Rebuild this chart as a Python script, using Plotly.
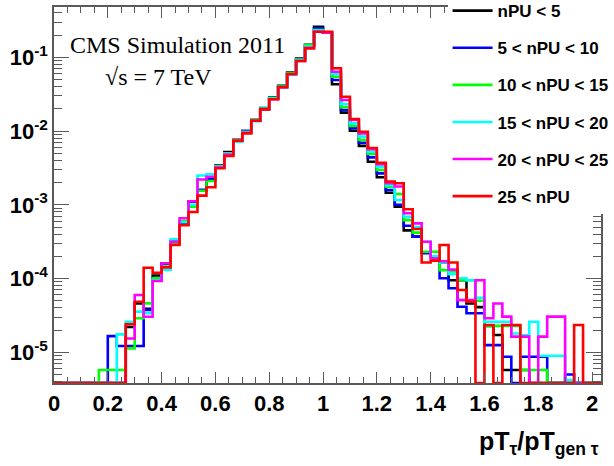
import plotly.graph_objects as go

# ---------------- data (61 bins of width 1/30 from 0 to 61/30) ----------------
BIN_WIDTH = 1.0 / 30.0
N_BINS = 61

series_names = ["nPU < 5", "5 < nPU < 10", "10 < nPU < 15",
                "15 < nPU < 20", "20 < nPU < 25", "25 < nPU"]
series_colors = ["#000000", "#0000ff", "#00ff00", "#00ffff", "#ff00ff", "#ff0000"]

npu_lt5 = [0, 0, 0, 0, 0, 0, 0, 0, 2.2e-5, 4.6e-5,
           3.9e-5, 1.1e-4, 1.6e-4, 3.0e-4, 5.8e-4, 9.5e-4, 1.55e-3, 2.2e-3, 3.4e-3, 5.2e-3,
           7.6e-3, 1.0e-2, 1.4e-2, 2.05e-2, 2.85e-2, 4.1e-2, 6.2e-2, 9.6e-2, 0.148, 0.26,
           0.215, 0.0431, 0.0178, 0.0101, 0.0063, 0.00384, 0.00236, 0.00146, 9.4e-4, 4.5e-4,
           3.7e-4, 2.24e-4, 1.98e-4, 1.65e-4, 9.5e-5, 9.5e-5, 4.6e-5, 4.1e-5, 2.28e-5, 1.72e-5,
           5.75e-6, 5.75e-6, 5.75e-6, 0, 0, 0, 0, 0, 0, 0,
           0]
npu_5_10 = [0, 0, 0, 0, 0, 0, 1.66e-5, 1.22e-5, 1.22e-5, 1.22e-5,
            3.74e-5, 1.0e-4, 1.6e-4, 3.2e-4, 5.5e-4, 1.1e-3, 1.6e-3, 2.2e-3, 3.3e-3, 5.0e-3,
            7.5e-3, 1.0e-2, 1.42e-2, 2.0e-2, 2.8e-2, 4.05e-2, 6.1e-2, 9.4e-2, 0.145, 0.247,
            0.215, 0.0492, 0.0193, 0.0109, 0.00695, 0.0044, 0.00267, 0.00159, 1.0e-3, 5.2e-4,
            3.69e-4, 2.2e-4, 2.0e-4, 1.01e-4, 7.4e-5, 4.15e-5, 3.38e-5, 3.38e-5, 1.25e-5, 1.25e-5,
            8.7e-6, 0, 8.7e-6, 8.7e-6, 8.7e-6, 0, 0, 5.0e-6, 0, 0,
            0]
npu_10_15 = [0, 0, 0, 0, 0, 5.75e-6, 5.75e-6, 5.75e-6, 1.13e-5, 2.89e-5,
             4.61e-5, 1.01e-4, 1.45e-4, 3.0e-4, 6.0e-4, 9.4e-4, 1.55e-3, 2.1e-3, 3.3e-3, 5.0e-3,
             7.5e-3, 9.8e-3, 1.42e-2, 2.0e-2, 2.8e-2, 4.0e-2, 6.1e-2, 9.3e-2, 0.147, 0.235,
             0.215, 0.0546, 0.021, 0.0117, 0.00756, 0.00489, 0.00296, 0.00176, 1.4e-3, 6.2e-4,
             4.2e-4, 2.31e-4, 2.31e-4, 1.3e-4, 1.25e-4, 9.5e-5, 9.5e-5, 5.0e-5, 2.28e-5, 2.28e-5,
             2.28e-5, 2.28e-5, 5.75e-6, 5.75e-6, 5.75e-6, 0, 0, 0, 0, 0,
             0]
npu_15_20 = [0, 0, 0, 0, 0, 0, 0, 1.75e-5, 2.6e-5, 3.56e-5,
             3.4e-5, 9.5e-5, 1.31e-4, 3.4e-4, 5.8e-4, 1.0e-3, 2.5e-3, 2.6e-3, 3.3e-3, 4.9e-3,
             7.2e-3, 9.6e-3, 1.36e-2, 2.0e-2, 2.75e-2, 3.9e-2, 5.8e-2, 9.2e-2, 0.14, 0.23,
             0.215, 0.0594, 0.0233, 0.0127, 0.0084, 0.00525, 0.00329, 0.00184, 1.16e-3, 6.9e-4,
             5.0e-4, 3.16e-4, 2.0e-4, 1.65e-4, 1.15e-4, 1.01e-4, 9.5e-5, 5.5e-5, 2.6e-5, 2.6e-5,
             2.6e-5, 1.8e-5, 1.7e-5, 2.6e-5, 9.0e-6, 9.0e-6, 9.0e-6, 4.2e-6, 0, 0,
             0]
npu_20_25 = [0, 0, 0, 0, 0, 0, 0, 0, 1.54e-5, 5.98e-5,
             3.04e-5, 9.27e-5, 1.61e-4, 3.16e-4, 6.56e-4, 1.12e-3, 2.2e-3, 2.4e-3, 3.2e-3, 4.8e-3,
             7.4e-3, 9.5e-3, 1.38e-2, 1.97e-2, 2.7e-2, 3.92e-2, 5.9e-2, 8.9e-2, 0.135, 0.222,
             0.215, 0.0638, 0.0264, 0.0141, 0.0093, 0.00566, 0.00354, 0.00196, 1.77e-3, 7.7e-4,
             5.6e-4, 3.16e-4, 1.87e-4, 1.72e-4, 1.32e-4, 5.1e-5, 5.1e-5, 9.5e-5, 2.9e-5, 4.6e-5,
             3.05e-5, 1.63e-5, 1.63e-5, 0, 1.63e-5, 3.05e-5, 3.05e-5, 0, 0, 0,
             0]
npu_gt25 = [0, 0, 0, 0, 0, 0, 0, 0, 2.4e-5, 4.85e-5,
            1.4e-4, 1.2e-4, 1.42e-4, 2.85e-4, 5.3e-4, 8.0e-4, 1.33e-3, 1.73e-3, 3.13e-3, 4.6e-3,
            7.4e-3, 9.3e-3, 1.38e-2, 1.97e-2, 2.7e-2, 3.92e-2, 5.94e-2, 8.9e-2, 0.132, 0.222,
            0.222, 0.071, 0.0292, 0.0146, 0.0098, 0.0059, 0.0037, 0.00206, 0.00196, 8.7e-4,
            4.7e-4, 1.65e-4, 1.75e-4, 2.85e-4, 1.65e-4, 7.0e-5, 4.85e-5, 0, 2.35e-5, 0,
            2.35e-5, 2.35e-5, 0, 0, 0, 0, 0, 0, 2.35e-5, 0,
            0]

x_tick_vals = [0, 0.2, 0.4, 0.6, 0.8, 1.0, 1.2, 1.4, 1.6, 1.8, 2.0]
x_tick_text = ["0", "0.2", "0.4", "0.6", "0.8", "1", "1.2", "1.4", "1.6", "1.8", "2"]
y_tick_vals = [1e-5, 1e-4, 1e-3, 1e-2, 1e-1]
y_tick_text = ["10<sup>-5</sup>", "10<sup>-4</sup>", "10<sup>-3</sup>",
               "10<sup>-2</sup>", "10<sup>-1</sup>"]

# ---------------- figure ----------------
Y_LOG_RANGE = [-5.416, -0.318]
Y_FLOOR = 10 ** Y_LOG_RANGE[0]
edges = [i * BIN_WIDTH for i in range(N_BINS + 1)]

all_series = [npu_lt5, npu_5_10, npu_10_15, npu_15_20, npu_20_25, npu_gt25]

fig = go.Figure()
for name, color, vals in zip(series_names, series_colors, all_series):
    yv = [v if v > 0 else Y_FLOOR for v in vals]
    fig.add_trace(go.Scatter(
        x=edges, y=yv + [yv[-1]], mode="lines", line_shape="hv",
        line=dict(color=color, width=2.6), name=name, legendgroup=name,
    ))

axis_col = "#5a5a5a"
tick_font = dict(family="Liberation Sans", size=22, color="black", weight="bold")

fig.update_layout(
    width=614, height=466,
    margin=dict(l=54, r=13, t=7, b=83, autoexpand=False),
    paper_bgcolor="white", plot_bgcolor="white",
    showlegend=True,
    legend=dict(x=0.7195, y=1.037, xanchor="left", yanchor="top",
                bgcolor="white", borderwidth=0, tracegroupgap=12,
                itemwidth=40,
                font=dict(family="Liberation Sans", size=17, color="black", weight="bold")),
    xaxis=dict(range=[0, N_BINS * BIN_WIDTH], tickmode="array",
               tickvals=x_tick_vals, ticktext=x_tick_text,
               ticks="inside", ticklen=11, tickwidth=1, tickcolor=axis_col,
               showline=True, linecolor=axis_col, linewidth=1.5, mirror="ticks",
               minor=dict(ticks="inside", ticklen=6, dtick=0.05, tick0=0,
                          tickcolor=axis_col, showgrid=False),
               showgrid=False, zeroline=False, tickfont=tick_font),
    yaxis=dict(type="log", range=Y_LOG_RANGE, tickmode="array",
               tickvals=y_tick_vals, ticktext=y_tick_text,
               ticks="inside", ticklen=15, tickwidth=1, tickcolor=axis_col,
               showline=True, linecolor=axis_col, linewidth=1.5, mirror="ticks",
               minor=dict(ticks="inside", ticklen=8, dtick="D1",
                          tickcolor=axis_col, showgrid=False),
               showgrid=False, zeroline=False, tickfont=tick_font),
)

fig.add_annotation(xref="paper", yref="paper", x=0.0256, y=0.899,
                   xanchor="left", yanchor="middle", showarrow=False,
                   text="CMS Simulation 2011",
                   font=dict(family="Liberation Serif", size=24, color="black"))
fig.add_annotation(xref="paper", yref="paper", x=0.0896, y=0.814,
                   xanchor="left", yanchor="middle", showarrow=False,
                   text="√s = 7 TeV",
                   font=dict(family="Liberation Serif", size=24, color="black"))
fig.add_annotation(xref="paper", yref="paper", x=1.0, y=-0.16,
                   xanchor="right", yanchor="middle", showarrow=False,
                   text="pT<sub>τ</sub>/pT<sub>gen τ</sub>",
                   font=dict(family="Liberation Sans", size=25, color="black", weight="bold"))

fig.write_html("out.html", config={"displayModeBar": False},
               post_script="document.body.style.margin='0px';")
